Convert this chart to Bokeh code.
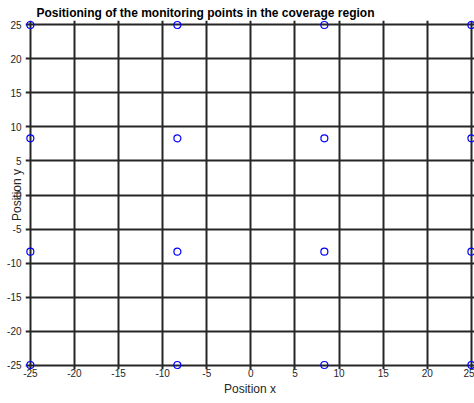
from bokeh.plotting import figure
from bokeh.models import FixedTicker, Range1d
from bokeh.embed import file_html
from bokeh.resources import INLINE

# Monitoring point coordinates (4x4 grid over the coverage region)
point_x = [-25, -25, -25, -25,
           -8.33, -8.33, -8.33, -8.33,
           8.33, 8.33, 8.33, 8.33,
           25, 25, 25, 25]
point_y = [-25, -8.33, 8.33, 25,
           -25, -8.33, 8.33, 25,
           -25, -8.33, 8.33, 25,
           -25, -8.33, 8.33, 25]

x_ticks = [-25, -20, -15, -10, -5, 0, 5, 10, 15, 20, 25]
y_ticks = [-25, -20, -15, -10, -5, 0, 5, 10, 15, 20, 25]
x_tick_labels = ["-25", "-20", "-15", "-10", "-5", "0", "5", "10", "15", "20", "25"]
y_tick_labels = ["-25", "-20", "-15", "-10", "-5", "0", "5", "10", "15", "20", "25"]

title_text = "Positioning of the monitoring points in the coverage region"
x_label = "Position x"
y_label = "Position y"

FONT = "Liberation Sans"
AX = "#262626"

p = figure(frame_width=449, frame_height=349, output_backend="svg",
           toolbar_location=None,
           x_range=Range1d(-25.55, 25.35), y_range=Range1d(-25.66, 25.66),
           min_border_left=25, min_border_right=0, min_border_top=20,
           min_border_bottom=20, title=title_text)

p.background_fill_color = "white"
p.border_fill_color = "white"
p.outline_line_color = None

p.title.text_font = FONT
p.title.text_font_size = "12px"
p.title.text_font_style = "bold"
p.title.text_color = "black"
p.title.align = "left"
p.title.offset = 11
p.title.standoff = 1

p.xaxis.ticker = FixedTicker(ticks=x_ticks)
p.yaxis.ticker = FixedTicker(ticks=y_ticks)
p.xaxis.major_label_overrides = {t: s for t, s in zip(x_ticks, x_tick_labels)}
p.yaxis.major_label_overrides = {t: s for t, s in zip(y_ticks, y_tick_labels)}
for ax in (p.xaxis, p.yaxis):
    ax.axis_line_color = None
    ax.major_tick_line_color = None
    ax.minor_tick_line_color = None
    ax.major_tick_out = 0
    ax.major_tick_in = 0
    ax.minor_tick_out = 0
    ax.minor_tick_in = 0
    ax.major_label_text_font = FONT
    ax.major_label_text_font_size = "10px"
    ax.major_label_text_color = AX
    ax.axis_label_text_font = FONT
    ax.axis_label_text_font_size = "12px"
    ax.axis_label_text_font_style = "normal"
    ax.axis_label_text_color = AX

p.xaxis.axis_label = x_label
p.xaxis.major_label_standoff = -1
p.xaxis.axis_label_standoff = 2
p.yaxis.axis_label = y_label
p.yaxis.major_label_standoff = 4
p.yaxis.axis_label_standoff = -20

for g in (p.xgrid, p.ygrid):
    g.grid_line_color = AX
    g.grid_line_width = 2
    g.grid_line_alpha = 1.0
    g.bounds = (-25, 25)
p.xgrid.ticker = FixedTicker(ticks=x_ticks)
p.ygrid.ticker = FixedTicker(ticks=y_ticks)

p.scatter(point_x, point_y, marker="circle", size=7, fill_color=None,
          line_color="blue", line_width=1.2)

open("out.html", "w").write(file_html(p, INLINE))
